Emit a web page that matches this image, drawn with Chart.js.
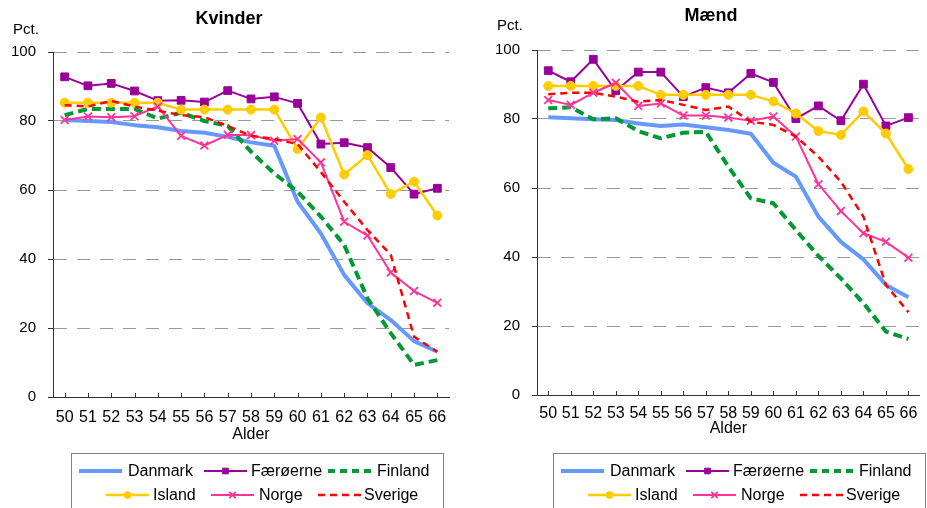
<!DOCTYPE html>
<html><head><meta charset="utf-8">
<script src="https://cdn.jsdelivr.net/npm/chart.js@4.4.1/dist/chart.umd.min.js"></script>
<style>
html,body{margin:0;padding:0;background:#fff;width:927px;height:508px;overflow:hidden;}
canvas{position:absolute;top:0;}
#c1{left:0px}
#c2{left:463px}
</style></head><body>
<canvas id="c1" width="463" height="508"></canvas>
<canvas id="c2" width="464" height="508"></canvas>
<script>
// ---------- data ----------
const ages = ['50','51','52','53','54','55','56','57','58','59','60','61','62','63','64','65','66'];
const yTickValues = [0, 20, 40, 60, 80, 100];
const seriesNames = ['Danmark', 'Færøerne', 'Finland', 'Island', 'Norge', 'Sverige'];
const chartTitles = ['Kvinder', 'Mænd'];
const yAxisLabel = 'Pct.';
const xAxisLabel = 'Alder';

const danmarkKvinder   = [80.3, 80.0, 79.7, 78.8, 78.2, 77.1, 76.6, 75.4, 73.8, 72.8, 56.6, 47.4, 35.4, 27.2, 22.3, 16.2, 13.1];
const faeroerneKvinder = [92.8, 90.2, 90.9, 88.7, 85.9, 86.0, 85.5, 88.8, 86.4, 87.0, 85.1, 73.3, 73.7, 72.3, 66.5, 58.8, 60.5];
const finlandKvinder   = [81.7, 83.5, 83.5, 83.5, 80.7, 82.4, 80.0, 78.6, 71.1, 64.8, 59.5, 52.3, 44.1, 28.6, 18.5, 9.3, 10.7];
const islandKvinder    = [85.3, 85.3, 85.3, 85.3, 85.3, 83.3, 83.3, 83.3, 83.3, 83.3, 71.9, 81.0, 64.5, 70.1, 58.8, 62.4, 52.6];
const norgeKvinder     = [80.3, 81.3, 81.1, 81.4, 84.2, 75.7, 72.9, 76.0, 75.9, 74.3, 74.8, 68.0, 50.8, 46.8, 36.1, 30.7, 27.3];
const sverigeKvinder   = [84.6, 84.2, 85.8, 84.2, 83.0, 81.7, 81.1, 78.6, 75.7, 74.8, 73.3, 65.2, 56.6, 48.4, 41.2, 17.5, 13.1];

const danmarkMaend   = [80.5, 80.2, 79.9, 79.7, 78.7, 78.0, 78.4, 77.6, 76.8, 75.7, 67.3, 63.3, 51.7, 44.4, 39.3, 31.9, 28.3];
const faeroerneMaend = [94.0, 90.8, 97.3, 88.2, 93.6, 93.6, 86.5, 89.1, 87.6, 93.2, 90.6, 80.1, 83.8, 79.5, 90.1, 78.0, 80.4];
const finlandMaend   = [83.1, 83.4, 79.9, 80.2, 76.5, 74.4, 76.0, 76.3, 66.2, 57.0, 55.6, 47.8, 40.3, 33.8, 26.6, 18.4, 16.2];
const islandMaend    = [89.6, 89.6, 89.6, 89.6, 89.6, 87.0, 87.0, 87.0, 87.0, 87.0, 85.1, 81.6, 76.5, 75.4, 82.2, 75.8, 65.5];
const norgeMaend     = [85.5, 84.1, 87.6, 90.5, 83.8, 84.5, 81.0, 81.0, 80.4, 79.5, 80.7, 74.9, 61.1, 53.3, 46.9, 44.4, 39.8];
const sverigeMaend   = [87.2, 87.6, 87.6, 86.5, 85.0, 85.5, 84.1, 82.6, 83.6, 79.2, 78.3, 74.9, 69.1, 61.8, 51.7, 31.9, 24.0];

// ---------- styles ----------
const FONT = '"Liberation Sans", Arial, Helvetica, sans-serif';
Chart.defaults.font.family = FONT;
const AXIS = '#333333';
const seriesStyles = [
  { color: 'rgb(102,153,255)', width: 4,   dash: [],    legendDash: [],    point: false },
  { color: 'rgb(153,0,153)',   width: 2,   dash: [],    legendDash: [],    point: 'rect',     r: 5.5, lr: 4,   pbw: 1 },
  { color: 'rgb(0,153,51)',    width: 4,   dash: [9,5], legendDash: [7,5], point: false },
  { color: 'rgb(255,204,0)',   width: 2.5, dash: [],    legendDash: [],    point: 'circle',   r: 4.5, lr: 3.5, pbw: 1 },
  { color: 'rgb(255,51,153)',  width: 2,   dash: [],    legendDash: [],    point: 'crossRot', r: 5.5, lr: 4.5, pbw: 1.8 },
  { color: 'rgb(255,0,0)',     width: 2.5, dash: [7,5], legendDash: [7,5], point: false }
];

function makeDatasets(seriesData) {
  return seriesData.map((data, i) => {
    const s = seriesStyles[i];
    return {
      label: seriesNames[i],
      data: data,
      borderColor: s.color,
      backgroundColor: s.color,
      borderWidth: s.width,
      borderDash: s.dash,
      borderCapStyle: 'butt',
      borderJoinStyle: 'round',
      tension: 0,
      pointStyle: s.point || 'circle',
      pointRadius: s.point ? s.r : 0,
      pointHoverRadius: s.point ? s.r : 0,
      pointBorderWidth: s.point ? s.pbw : 0,
      pointBackgroundColor: s.color,
      pointBorderColor: s.color,
      order: 6 - i
    };
  });
}

// custom decorations: title, "Pct.", inward x tick marks, boxed legend
const decor = {
  id: 'decor',
  afterDraw(chart, args, o) {
    const ctx = chart.ctx;
    const area = chart.chartArea;
    ctx.save();
    ctx.fillStyle = '#000';
    ctx.textBaseline = 'middle';
    ctx.textAlign = 'center';
    ctx.font = 'bold 18px ' + FONT;
    ctx.fillText(o.title, o.titleX, o.titleY);
    ctx.textAlign = 'left';
    ctx.font = '15px ' + FONT;
    ctx.fillText(yAxisLabel, o.pctX, o.pctY);

    // x tick marks pointing into the plot
    const xs = chart.scales.x;
    ctx.strokeStyle = AXIS; ctx.lineWidth = 1;
    for (let i = 0; i < xs.ticks.length; i++) {
      const px = Math.round(xs.getPixelForTick(i)) + 0.5;
      ctx.beginPath(); ctx.moveTo(px, area.bottom); ctx.lineTo(px, area.bottom - 4); ctx.stroke();
    }

    // legend
    const L = o.legend;
    ctx.strokeStyle = '#808080'; ctx.lineWidth = 1;
    ctx.strokeRect(L.x + 0.5, L.top + 0.5, L.w, 90);
    ctx.font = '16px ' + FONT;
    ctx.textAlign = 'left';
    chart.data.datasets.forEach((d, i) => {
      const s = seriesStyles[i];
      const y = L.rows[i < 3 ? 0 : 1];
      const sx = L.x + L.sampleX[i];
      ctx.save();
      ctx.strokeStyle = s.color;
      ctx.lineWidth = s.width;
      ctx.setLineDash(s.legendDash);
      ctx.beginPath(); ctx.moveTo(sx, y); ctx.lineTo(sx + L.sampleW, y); ctx.stroke();
      ctx.restore();
      if (s.point) {
        ctx.save();
        ctx.fillStyle = s.color; ctx.strokeStyle = s.color; ctx.lineWidth = s.pbw;
        Chart.helpers.drawPoint(ctx, { pointStyle: s.point, radius: s.lr, borderWidth: s.pbw, rotation: 0 }, sx + L.sampleW / 2, y);
        ctx.restore();
      }
      ctx.fillStyle = '#000';
      ctx.fillText(d.label, L.x + L.textX[i], y + 1);
    });
    ctx.restore();
  }
};

function legendSpec(x) {
  return { x: x, top: 453, w: 372, rows: [471, 495],
           sampleX: [8, 133, 257, 35, 140, 247], textX: [57, 180, 306, 82, 188, 293], sampleW: 43 };
}

function makeChart(id, title, seriesData, lay) {
  return new Chart(document.getElementById(id), {
    type: 'line',
    data: { labels: ages, datasets: makeDatasets(seriesData) },
    plugins: [decor],
    options: {
      responsive: false,
      animation: false,
      devicePixelRatio: 1,
      layout: { padding: { top: lay.top, right: lay.right, bottom: lay.bottom, left: 0 } },
      plugins: {
        legend: { display: false },
        tooltip: { enabled: false },
        title: { display: false },
        decor: { title: title, titleX: lay.titleX, titleY: lay.titleY, pctX: lay.pctX, pctY: lay.pctY, legend: legendSpec(lay.legendX) }
      },
      scales: {
        x: {
          type: 'category',
          offset: true,
          grid: { display: false, drawTicks: false },
          border: { display: true, color: AXIS, width: 1 },
          ticks: { color: '#000', font: { size: 16 }, padding: lay.xPad, maxRotation: 0, autoSkip: false },
          title: { display: true, text: xAxisLabel, color: '#000', font: { size: 16 }, padding: 0 },
          afterFit: (s) => { s.height = lay.xH; }
        },
        y: {
          min: 0, max: 100,
          afterBuildTicks: (s) => { s.ticks = yTickValues.map(v => ({ value: v })); },
          grid: { color: '#9a9a9a', lineWidth: 1, drawTicks: true, tickLength: 5, tickColor: AXIS, tickWidth: 1 },
          border: { display: true, color: AXIS, width: 1, dash: [13, 10] },
          ticks: { color: '#000', font: { size: 15 }, padding: 12 },
          afterFit: (s) => { s.width = lay.yW; }
        }
      }
    }
  });
}

makeChart('c1', chartTitles[0],
  [danmarkKvinder, faeroerneKvinder, finlandKvinder, islandKvinder, norgeKvinder, sverigeKvinder],
  { top: 52, right: 14, bottom: 64, xH: 47, yW: 53, xPad: 11, titleX: 229, titleY: 19, pctX: 13, pctY: 30, legendX: 71 });

makeChart('c2', chartTitles[1],
  [danmarkMaend, faeroerneMaend, finlandMaend, islandMaend, norgeMaend, sverigeMaend],
  { top: 50, right: 0, bottom: 70, xH: 43, yW: 74, xPad: 9, titleX: 248, titleY: 16, pctX: 34, pctY: 26, legendX: 90 });
</script>
</body></html>
